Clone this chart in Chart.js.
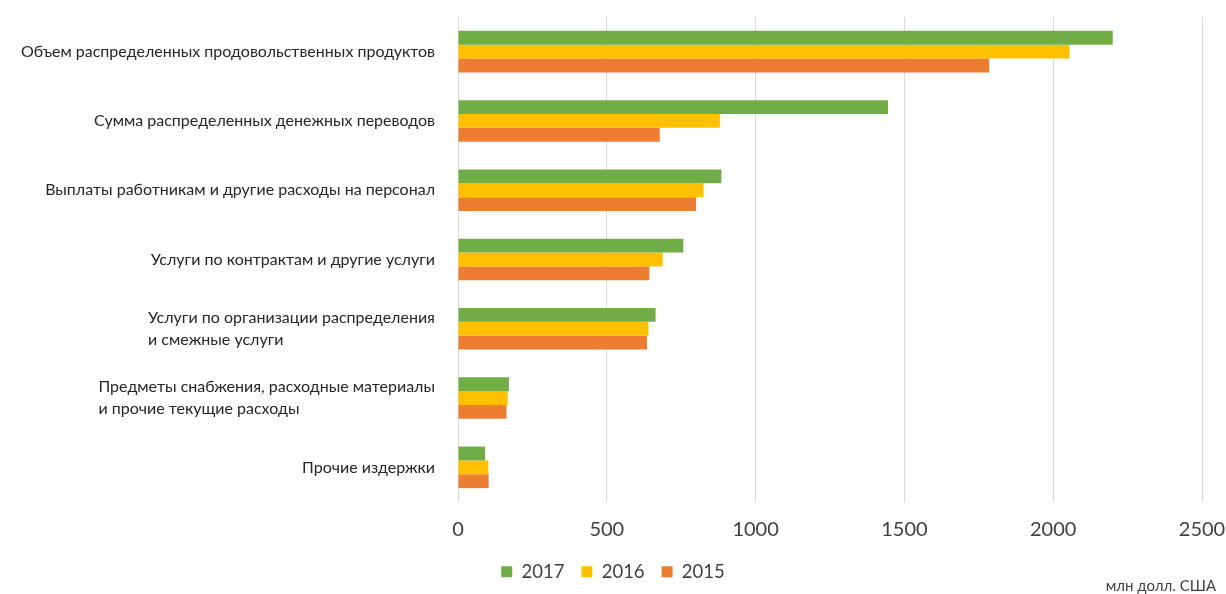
<!DOCTYPE html>
<html>
<head>
<meta charset="utf-8">
<script src="https://cdn.jsdelivr.net/npm/chart.js@4"></script>
<style>
  html, body { margin: 0; padding: 0; background: #fff; }
  #wrap { width: 1226px; height: 594px; position: relative; }
</style>
</head>
<body>
<div id="wrap"><canvas id="grafico"></canvas></div>
<script>
// CATEGORIAS (CADA LINHA DO RÓTULO EM UM ITEM)
const categorias = [
    ['Объем распределенных продовольственных продуктов'],
    ['Сумма распределенных денежных переводов'],
    ['Выплаты работникам и другие расходы на персонал'],
    ['Услуги по контрактам и другие услуги'],
    ['Услуги по организации распределения', 'и смежные услуги'],
    ['Предметы снабжения, расходные материалы', 'и прочие текущие расходы'],
    ['Прочие издержки']
];

// VALORES POR ANO (МЛН ДОЛЛ. США)
const valores2017 = [2200, 1445, 885, 757, 664, 171, 91];
const valores2016 = [2055, 880, 825, 688, 640, 167, 102];
const valores2015 = [1785, 678, 800, 643, 635, 163, 103];

const anos = ['2017', '2016', '2015'];
const marcasX = [0, 500, 1000, 1500, 2000, 2500];
const unidade = 'млн долл. США';

const cores = { '2017': '#70ad47', '2016': '#ffc000', '2015': '#ed7d31' };
const fonte = 'Lato, "Open Sans", sans-serif';

// DESENHA OS RÓTULOS DAS CATEGORIAS (BLOCO ALINHADO À DIREITA, LINHAS À ESQUERDA)
const rotulosCategorias = {
    id: 'rotulosCategorias',
    afterDraw(chart) {
        const { ctx, scales } = chart;
        const y = scales.y;
        ctx.save();
        ctx.font = '16px ' + fonte;
        ctx.fillStyle = '#262626';
        ctx.textBaseline = 'middle';
        ctx.textAlign = 'left';
        const direita = 435;
        const alturaLinha = 22;
        categorias.forEach((linhas, i) => {
            const largura = Math.max(...linhas.map(l => ctx.measureText(l).width));
            const centro = y.getPixelForTick(i);
            const inicio = centro - (linhas.length - 1) * alturaLinha / 2;
            linhas.forEach((linha, j) => {
                ctx.fillText(linha, direita - largura, inicio + j * alturaLinha);
            });
        });
        // UNIDADE NO CANTO INFERIOR DIREITO
        ctx.font = '15px ' + fonte;
        ctx.fillStyle = '#404040';
        ctx.textAlign = 'right';
        ctx.fillText(unidade, 1216, 586);
        ctx.restore();
    }
};

const ctx = document.getElementById('grafico');

new Chart(ctx, {
    type: 'bar',
    data: {
        labels: categorias,
        datasets: [
            { label: anos[0], data: valores2017, backgroundColor: cores['2017'] },
            { label: anos[1], data: valores2016, backgroundColor: cores['2016'] },
            { label: anos[2], data: valores2015, backgroundColor: cores['2015'] }
        ]
    },
    options: {
        indexAxis: 'y',
        responsive: true,
        maintainAspectRatio: false,
        animation: false,
        datasets: { bar: { categoryPercentage: 0.6, barPercentage: 1.0 } },
        layout: { padding: { left: 0, right: 0, top: 17, bottom: 3 } },
        scales: {
            x: {
                min: 0,
                max: 2500,
                afterBuildTicks: (escala) => { escala.ticks = marcasX.map(v => ({ value: v })); },
                afterFit: (escala) => {
                    escala.height = 43.5;
                    escala.paddingRight = 24;
                },
                grid: { color: '#d9d9d9', drawTicks: false },
                border: { display: false },
                ticks: {
                    color: '#404040',
                    font: { family: fonte, size: 20 },
                    padding: 16,
                    callback: (valor) => String(valor)
                }
            },
            y: {
                grid: { display: false },
                border: { display: false },
                ticks: { display: true, color: 'rgba(0,0,0,0)', font: { size: 1 } },
                afterFit: (escala) => { escala.width = 458; }
            }
        },
        plugins: {
            legend: {
                position: 'bottom',
                labels: {
                    boxWidth: 11,
                    boxHeight: 11,
                    padding: 17,
                    color: '#404040',
                    font: { family: fonte, size: 18.5 }
                }
            },
            tooltip: { enabled: false }
        }
    },
    plugins: [rotulosCategorias]
});
</script>
</body>
</html>
